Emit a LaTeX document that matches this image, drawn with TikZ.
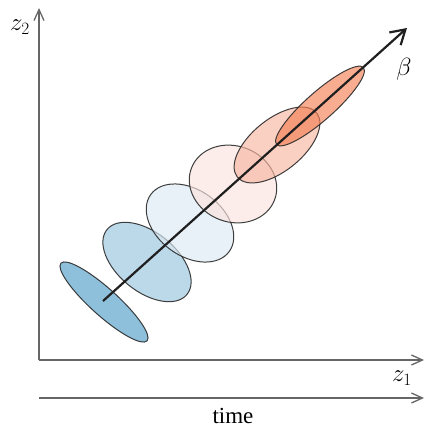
\documentclass[tikz,border=0pt]{standalone}
\usepackage{fontspec}
\setmainfont{Liberation Serif}
\usepackage{tikz}
\usetikzlibrary{arrows.meta}
\usetikzlibrary{shapes.geometric, positioning}
\usepackage{color}

\definecolor{axisgray}{HTML}{666666}
\definecolor{edgegray}{HTML}{2A2A2A}
\definecolor{blueA}{RGB}{81,157,200}
\definecolor{blueB}{RGB}{152,197,221}
\definecolor{blueC}{RGB}{220,233,242}
\definecolor{redC}{RGB}{250,227,222}
\definecolor{redB}{RGB}{247,183,161}
\definecolor{redA}{RGB}{244,127,84}

\begin{document}
\begin{tikzpicture}[
    x=1pt, y=-1pt,
    blob/.style={ellipse, draw=edgegray, line width=1pt, fill opacity=0.65, draw opacity=0.9, inner sep=0pt},
    axis/.style={draw=axisgray, line width=1.3pt, -{Straight Barb[length=11pt,width=10pt]}},
    lbl/.style={font=\fontsize{23}{27}\selectfont, inner sep=1pt}
]
\useasboundingbox (0,0) rectangle (425,432);

% Axes
\coordinate (origin) at (39,360);
\coordinate (ytip) at (39,8);
\coordinate (xtip) at (424,360);
\coordinate (tstart) at (39,398);
\coordinate (tend) at (424,398);
\draw[axis] (origin) -- (ytip);
\draw[axis] (origin) -- (xtip);
\draw[axis] (tstart) -- (tend);

% Labels
\node[lbl] (ylabel) at (20,27) {$z_2$};
\node[lbl] (xlabel) at (402,378) {$z_1$};
\node[lbl] (tlabel) at (233,416) {time};
\node[lbl] (blabel) at (404,69) {$\beta$};

% Ellipses, blue to red
\node[blob, fill=blueA, minimum width=116pt, minimum height=27pt, rotate=-42] (b1) at (104,302) {};
\node[blob, fill=blueB, minimum width=103pt, minimum height=59pt, rotate=-39] (b2) at (147,262) {};
\node[blob, fill=blueC, minimum width=97pt, minimum height=66pt, rotate=-36] (b3) at (190,223) {};
\node[blob, fill=redC, minimum width=89pt, minimum height=76pt, rotate=-21] (r3) at (233,184) {};
\node[blob, fill=redB, minimum width=102pt, minimum height=52pt, rotate=39] (r2) at (277,145) {};
\node[blob, fill=redA, minimum width=116pt, minimum height=28pt, rotate=41.5] (r1) at (320,106) {};

% Direction beta
\coordinate (bstart) at (103,301);
\coordinate (bend) at (407,28);
\draw[line width=2.2pt, draw=black!88, -{Straight Barb[length=14pt,width=17pt]}] (bstart) -- (bend);

\end{tikzpicture}
\end{document}
